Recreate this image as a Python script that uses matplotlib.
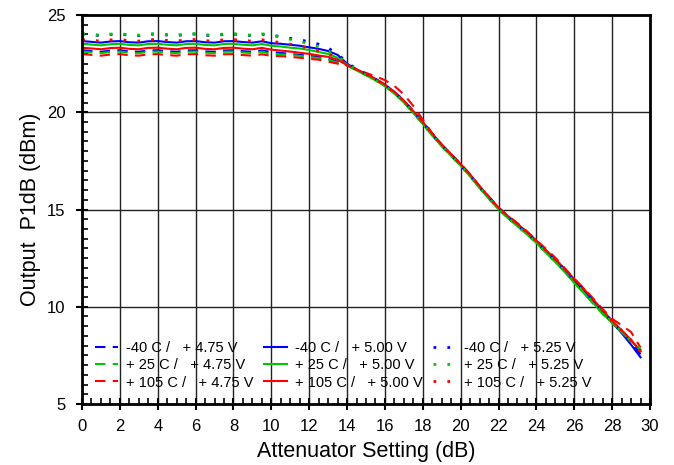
import numpy as np
import matplotlib.pyplot as plt
from matplotlib.ticker import MultipleLocator

plt.rcParams["font.family"] = ["Liberation Sans", "DejaVu Sans"]

# attenuator setting, 0 to 29.5 dB in 0.5 dB steps
atten = np.arange(0, 30, 0.5)

# output P1dB (dBm) per temperature / supply voltage
m40_475 = [23.19, 23.15, 23.11, 23.17, 23.19, 23.13, 23.11, 23.18, 23.19, 23.14,
           23.11, 23.18, 23.19, 23.13, 23.11, 23.18, 23.19, 23.14, 23.11, 23.18,
           23.10, 23.05, 23.00, 22.95, 22.90, 22.85, 22.75, 22.60,
           22.42, 22.18, 21.95, 21.70, 21.42, 21.05, 20.60, 20.05, 19.50, 18.88,
           18.32, 17.82, 17.32, 16.78, 16.18, 15.62, 15.08, 14.62, 14.22, 13.82,
           13.38, 12.88, 12.42, 11.90, 11.40, 10.90, 10.35, 9.80, 9.25, 8.75,
           8.15, 7.55]
m40_500 = [23.66, 23.62, 23.58, 23.64, 23.66, 23.60, 23.58, 23.65, 23.66, 23.61,
           23.58, 23.65, 23.66, 23.60, 23.58, 23.65, 23.66, 23.61, 23.58, 23.65,
           23.55, 23.52, 23.47, 23.42, 23.34, 23.26, 23.15, 22.95,
           22.50, 22.20, 21.95, 21.68, 21.38, 21.00, 20.55, 20.00, 19.45, 18.85,
           18.30, 17.80, 17.30, 16.75, 16.15, 15.60, 15.05, 14.60, 14.20, 13.80,
           13.35, 12.85, 12.38, 11.88, 11.35, 10.85, 10.30, 9.75, 9.20, 8.65,
           8.05, 7.40]
m40_525 = [24.02, 23.98, 23.94, 24.00, 24.02, 23.96, 23.94, 24.01, 24.02, 23.97,
           23.94, 24.01, 24.02, 23.96, 23.94, 24.01, 24.02, 23.97, 23.94, 24.01,
           23.95, 23.90, 23.80, 23.72, 23.63, 23.50, 23.30, 23.00,
           22.55, 22.22, 21.95, 21.70, 21.40, 21.02, 20.58, 20.02, 19.48, 18.86,
           18.30, 17.80, 17.28, 16.74, 16.14, 15.60, 15.05, 14.60, 14.18, 13.78,
           13.33, 12.84, 12.37, 11.86, 11.35, 10.84, 10.30, 9.76, 9.22, 8.70,
           8.15, 7.50]
p25_475 = [23.12, 23.08, 23.04, 23.10, 23.12, 23.06, 23.04, 23.11, 23.12, 23.07,
           23.04, 23.11, 23.12, 23.06, 23.04, 23.11, 23.12, 23.07, 23.04, 23.11,
           23.00, 22.97, 22.95, 22.90, 22.85, 22.78, 22.70, 22.55,
           22.40, 22.15, 21.92, 21.66, 21.36, 20.98, 20.52, 19.98, 19.42, 18.82,
           18.26, 17.76, 17.26, 16.72, 16.12, 15.56, 15.02, 14.56, 14.16, 13.75,
           13.30, 12.80, 12.32, 11.80, 11.25, 10.72, 10.15, 9.62, 9.15, 8.68,
           8.20, 7.75]
p25_500 = [23.52, 23.48, 23.44, 23.50, 23.52, 23.46, 23.44, 23.51, 23.52, 23.47,
           23.44, 23.51, 23.52, 23.46, 23.44, 23.51, 23.52, 23.47, 23.44, 23.51,
           23.42, 23.38, 23.32, 23.28, 23.20, 23.10, 23.00, 22.80,
           22.45, 22.15, 21.90, 21.64, 21.34, 20.96, 20.50, 19.96, 19.40, 18.80,
           18.25, 17.75, 17.25, 16.70, 16.10, 15.55, 15.00, 14.55, 14.14, 13.72,
           13.28, 12.78, 12.30, 11.78, 11.22, 10.70, 10.18, 9.65, 9.18, 8.70,
           8.22, 7.80]
p25_525 = [24.04, 24.00, 23.96, 24.02, 24.04, 23.98, 23.96, 24.03, 24.04, 23.99,
           23.96, 24.03, 24.04, 23.98, 23.96, 24.03, 24.04, 23.99, 23.96, 24.03,
           23.98, 23.85, 23.75, 23.65, 23.50, 23.35, 23.15, 22.90,
           22.50, 22.18, 21.92, 21.66, 21.36, 20.98, 20.52, 19.98, 19.42, 18.82,
           18.27, 17.77, 17.27, 16.72, 16.12, 15.57, 15.02, 14.57, 14.15, 13.74,
           13.30, 12.80, 12.32, 11.82, 11.28, 10.76, 10.22, 9.68, 9.20, 8.72,
           8.24, 7.82]
p105_475 = [22.99, 22.95, 22.91, 22.97, 22.99, 22.93, 22.91, 22.98, 22.99, 22.94,
            22.91, 22.98, 22.99, 22.93, 22.91, 22.98, 22.99, 22.94, 22.91, 22.98,
            22.90, 22.88, 22.85, 22.80, 22.75, 22.70, 22.60, 22.50,
            22.40, 22.22, 22.02, 21.85, 21.65, 21.35, 20.92, 20.32, 19.62, 18.92,
            18.34, 17.84, 17.34, 16.80, 16.20, 15.65, 15.10, 14.68, 14.30, 13.88,
            13.42, 12.98, 12.52, 11.98, 11.45, 10.95, 10.42, 9.88, 9.38, 9.05,
            8.70, 7.90]
p105_500 = [23.32, 23.28, 23.24, 23.30, 23.32, 23.26, 23.24, 23.31, 23.32, 23.27,
            23.24, 23.31, 23.32, 23.26, 23.24, 23.31, 23.32, 23.27, 23.24, 23.31,
            23.22, 23.17, 23.12, 23.06, 23.00, 22.92, 22.85, 22.70,
            22.42, 22.20, 21.98, 21.72, 21.42, 21.05, 20.60, 20.06, 19.50, 18.90,
            18.34, 17.84, 17.34, 16.80, 16.20, 15.64, 15.10, 14.66, 14.26, 13.85,
            13.40, 12.92, 12.45, 11.95, 11.42, 10.92, 10.38, 9.82, 9.28, 8.80,
            8.30, 7.70]
p105_525 = [23.74, 23.70, 23.66, 23.72, 23.74, 23.68, 23.66, 23.73, 23.74, 23.69,
            23.66, 23.73, 23.74, 23.68, 23.66, 23.73, 23.74, 23.69, 23.66, 23.73,
            23.65, 23.58, 23.50, 23.40, 23.30, 23.15, 23.00, 22.80,
            22.45, 22.20, 21.96, 21.70, 21.40, 21.02, 20.58, 20.04, 19.48, 18.88,
            18.32, 17.82, 17.32, 16.78, 16.18, 15.62, 15.08, 14.64, 14.24, 13.83,
            13.38, 12.90, 12.43, 11.92, 11.40, 10.90, 10.36, 9.80, 9.26, 8.78,
            8.28, 7.72]

blue, green, red = "#0000ff", "#00c800", "#ff0000"
dash = (0, (5, 3.5))
dot = (0, (1, 4))

# order gives three legend columns: 4.75 V, 5.00 V, 5.25 V
curves = [
    (m40_475, blue, dash, "-40 C /   + 4.75 V"),
    (p25_475, green, dash, "+ 25 C /   + 4.75 V"),
    (p105_475, red, dash, "+ 105 C /   + 4.75 V"),
    (m40_500, blue, "-", "-40 C /   + 5.00 V"),
    (p25_500, green, "-", "+ 25 C /   + 5.00 V"),
    (p105_500, red, "-", "+ 105 C /   + 5.00 V"),
    (m40_525, blue, dot, "-40 C /   + 5.25 V"),
    (p25_525, green, dot, "+ 25 C /   + 5.25 V"),
    (p105_525, red, dot, "+ 105 C /   + 5.25 V"),
]

fig = plt.figure(figsize=(6.74, 4.65), dpi=100)
ax = fig.add_axes([0.1217, 0.1312, 0.8427, 0.8365])

for y, c, ls, lab in curves:
    lw = 2.0 if ls is dot else 1.5
    ax.plot(atten, y, color=c, linestyle=ls, lw=lw, label=lab)

ax.set_xlim(0, 30)
ax.set_ylim(5, 25)
ax.xaxis.set_major_locator(MultipleLocator(2))
ax.xaxis.set_minor_locator(MultipleLocator(0.5))
ax.yaxis.set_major_locator(MultipleLocator(5))
ax.yaxis.set_minor_locator(MultipleLocator(0.5))
ax.grid(True, which="major", color="#222222", lw=1.0)
ax.set_axisbelow(True)

for s in ax.spines.values():
    s.set_linewidth(2.0)
ax.tick_params(which="major", direction="inout", length=8, width=1.5, labelsize=12)
ax.tick_params(axis="x", which="major", pad=7)
ax.tick_params(axis="y", which="major", pad=8)
ax.tick_params(which="minor", direction="in", length=4, width=1.2)

ax.set_xlabel("Attenuator Setting (dB)", fontsize=15.5, labelpad=5)
ax.set_ylabel("Output  P1dB (dBm)", fontsize=15.5, labelpad=4)

ax.legend(ncol=3, loc="lower left", bbox_to_anchor=(0.005, 0.011), frameon=False,
          fontsize=10.5, handlelength=1.6, handletextpad=0.5, columnspacing=0.75,
          labelspacing=0.22, borderaxespad=0.3)

fig.savefig("out.png", dpi=100)
